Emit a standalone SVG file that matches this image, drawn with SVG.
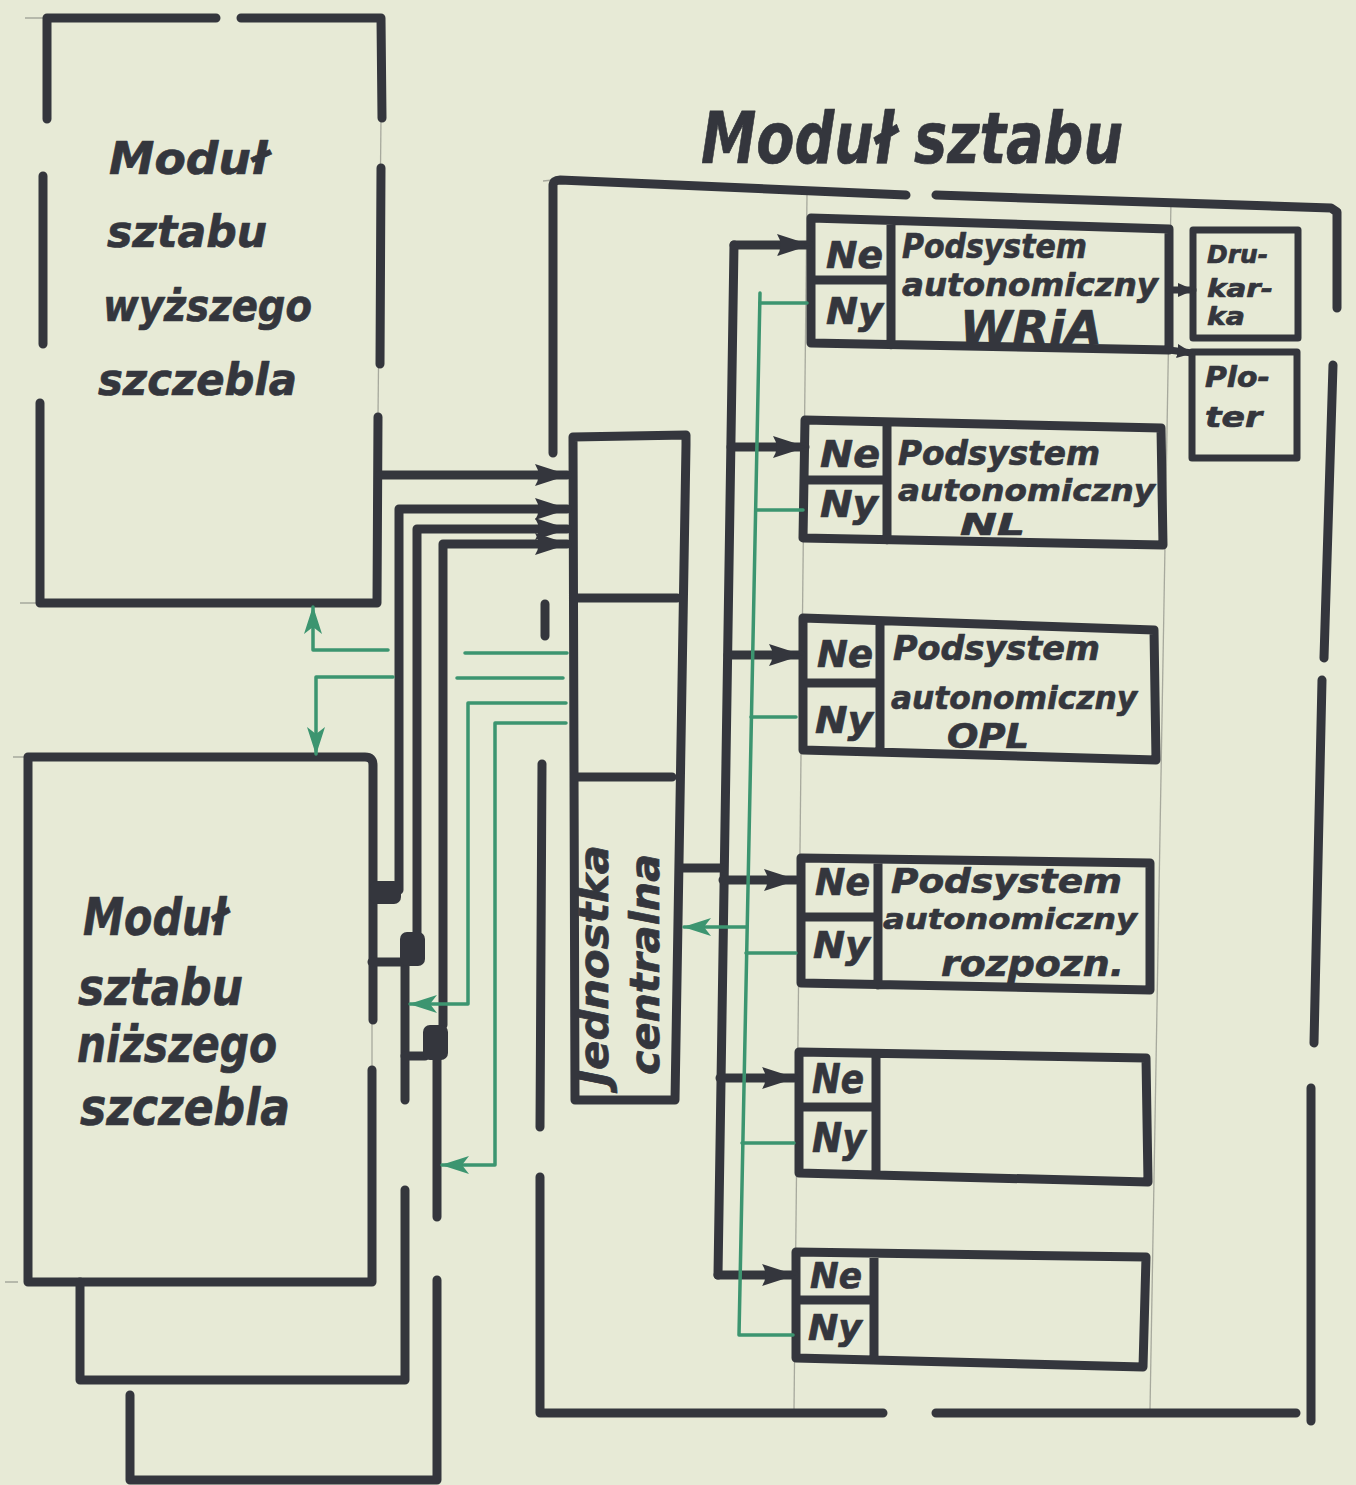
<svg xmlns="http://www.w3.org/2000/svg" width="1356" height="1485" viewBox="0 0 1356 1485">
<style>
.ink{stroke:#34363d;stroke-width:9;fill:none;stroke-linecap:round;stroke-linejoin:round}
.ink2{stroke:#34363d;stroke-width:7;fill:none;stroke-linecap:round;stroke-linejoin:round}
.grn{stroke:#3c9570;stroke-width:3.5;fill:none;stroke-linecap:round;stroke-linejoin:round}
.pen{stroke:#a7a99d;stroke-width:1.3;fill:none}
.blob{fill:#34363d}
.hand{font-family:"DejaVu Sans","Liberation Sans",sans-serif;font-weight:bold;font-style:italic;fill:#34363d;stroke:#34363d;stroke-width:0.7;stroke-linejoin:round}
</style>
<defs>
<marker id="ah" viewBox="0 0 34 24" refX="32" refY="12" markerWidth="34" markerHeight="24" markerUnits="userSpaceOnUse" orient="auto"><path d="M0,1 L34,12 L0,23 Q7,12 0,1 z" fill="#34363d"/></marker>
<marker id="ahs" viewBox="0 0 16 14" refX="15" refY="7" markerWidth="16" markerHeight="14" markerUnits="userSpaceOnUse" orient="auto"><path d="M0,0 L16,7 L0,14 z" fill="#34363d"/></marker>
<marker id="ag" viewBox="0 0 28 18" refX="27" refY="9" markerWidth="28" markerHeight="18" markerUnits="userSpaceOnUse" orient="auto"><path d="M0,0 L28,9 L0,18 L7,9 z" fill="#3c9570"/></marker>
</defs>
<rect x="0" y="0" width="1356" height="1485" fill="#e7ead6"/>

<!-- pencil guide lines -->
<g id="guides">
<path class="pen" d="M807,195 L794,1410"/>
<path class="pen" d="M1171,200 L1150,1410"/>
<path class="pen" d="M381,118 L378,417"/>
<path class="pen" d="M372,1020 L372,1070"/>
<path class="pen" d="M25,18 L47,18 M20,603 L40,603 M13,757 L28,757 M5,1282 L18,1282 M543,181 L553,180"/>
</g>

<!-- Upper-level staff module -->
<g id="modul-wyzszy">
<path class="ink" d="M47,119 L47,18 L216,18 M241,18 L381,18 L382,118 M381,168 L380,364 M378,417 L377,603 L40,603 L40,403 M43,344 L43,176"/>
<text class="hand" font-size="44" x="109" y="174" textLength="159" lengthAdjust="spacingAndGlyphs">Moduł</text>
<text class="hand" font-size="44" x="107" y="247" textLength="160" lengthAdjust="spacingAndGlyphs">sztabu</text>
<text class="hand" font-size="44" x="103" y="321" textLength="209" lengthAdjust="spacingAndGlyphs">wyższego</text>
<text class="hand" font-size="44" x="98" y="395" textLength="199" lengthAdjust="spacingAndGlyphs">szczebla</text>
</g>

<!-- Lower-level staff module (stacked) -->
<g id="modul-nizszy">
<path class="ink" d="M373,1020 L373,765 Q373,757 365,757 L28,757 L28,1282 L372,1282 L372,1070"/>
<text class="hand" font-size="52" x="83" y="935" textLength="144" lengthAdjust="spacingAndGlyphs">Moduł</text>
<text class="hand" font-size="52" x="78" y="1005" textLength="165" lengthAdjust="spacingAndGlyphs">sztabu</text>
<text class="hand" font-size="52" x="77" y="1062" textLength="200" lengthAdjust="spacingAndGlyphs">niższego</text>
<text class="hand" font-size="52" x="80" y="1125" textLength="210" lengthAdjust="spacingAndGlyphs">szczebla</text>
</g>
<g id="modul-nizszy-2">
<path class="ink" d="M405,966 L405,1100 M80,1282 L80,1380 L405,1380 L405,1190"/>
</g>
<g id="modul-nizszy-3">
<path class="ink" d="M437,1060 L437,1217 M130,1395 L130,1480 L437,1480 L437,1280"/>
</g>

<!-- Staff module frame -->
<g id="modul-sztabu">
<path class="ink" d="M553,453 L553,186 Q553,180 560,180 L906,195 M936,195 L1331,208 L1337,212 L1337,308 M1333,365 L1324,658 M1322,680 L1314,1043 M1311,1088 L1311,1421 M540,1177 L540,1413 L883,1413 M936,1413 L1296,1413 M545,604 L545,636 M542,764 L540,1127"/>
<text class="hand" font-size="72" x="701" y="163" textLength="422" lengthAdjust="spacingAndGlyphs">Moduł sztabu</text>
</g>

<!-- Central unit -->
<g id="jednostka">
<path class="ink" d="M575,1100 L573,437 L686,435 L686,445 L675,1100 Z M575,598 L677,598 M575,777 L672,777"/>
<text class="hand" font-size="40" transform="translate(608,1086) rotate(-90)" textLength="241" lengthAdjust="spacingAndGlyphs">Jednostka</text>
<text class="hand" font-size="40" transform="translate(659,1075) rotate(-90)" textLength="221" lengthAdjust="spacingAndGlyphs">centralna</text>
</g>

<!-- Subsystems -->
<g id="sub-wria">
<path class="ink" d="M811,218 L1169,229 L1169,350 L811,343 Z M891,222 L891,345 M811,280 L891,280"/>
<text class="hand" font-size="38" x="826" y="268" textLength="57" lengthAdjust="spacingAndGlyphs">Ne</text>
<text class="hand" font-size="38" x="826" y="324" textLength="57" lengthAdjust="spacingAndGlyphs">Ny</text>
<text class="hand" font-size="33" x="902" y="258" textLength="185" lengthAdjust="spacingAndGlyphs">Podsystem</text>
<text class="hand" font-size="32" x="902" y="296" textLength="256" lengthAdjust="spacingAndGlyphs">autonomiczny</text>
<text class="hand" font-size="46" x="960" y="344" textLength="142" lengthAdjust="spacingAndGlyphs">WRiA</text>
</g>
<g id="sub-nl">
<path class="ink" d="M805,420 L1161,428 L1163,545 L803,538 Z M887,422 L887,540 M805,480 L887,480"/>
<text class="hand" font-size="38" x="820" y="467" textLength="60" lengthAdjust="spacingAndGlyphs">Ne</text>
<text class="hand" font-size="38" x="820" y="517" textLength="58" lengthAdjust="spacingAndGlyphs">Ny</text>
<text class="hand" font-size="33" x="898" y="465" textLength="202" lengthAdjust="spacingAndGlyphs">Podsystem</text>
<text class="hand" font-size="31" x="898" y="501" textLength="257" lengthAdjust="spacingAndGlyphs">autonomiczny</text>
<text class="hand" font-size="30" x="960" y="535" textLength="65" lengthAdjust="spacingAndGlyphs">NL</text>
</g>
<g id="sub-opl">
<path class="ink" d="M803,618 L1154,630 L1156,760 L803,750 Z M880,621 L880,752 M803,683 L880,683"/>
<text class="hand" font-size="38" x="817" y="667" textLength="56" lengthAdjust="spacingAndGlyphs">Ne</text>
<text class="hand" font-size="38" x="815" y="733" textLength="58" lengthAdjust="spacingAndGlyphs">Ny</text>
<text class="hand" font-size="33" x="893" y="660" textLength="207" lengthAdjust="spacingAndGlyphs">Podsystem</text>
<text class="hand" font-size="32" x="891" y="709" textLength="246" lengthAdjust="spacingAndGlyphs">autonomiczny</text>
<text class="hand" font-size="34" x="947" y="748" textLength="82" lengthAdjust="spacingAndGlyphs">OPL</text>
</g>
<g id="sub-rozpozn">
<path class="ink" d="M801,858 L1150,863 L1150,990 L801,983 Z M878,860 L878,985 M801,917 L878,917"/>
<text class="hand" font-size="38" x="815" y="895" textLength="55" lengthAdjust="spacingAndGlyphs">Ne</text>
<text class="hand" font-size="38" x="813" y="958" textLength="57" lengthAdjust="spacingAndGlyphs">Ny</text>
<text class="hand" font-size="34" x="891" y="893" textLength="231" lengthAdjust="spacingAndGlyphs">Podsystem</text>
<text class="hand" font-size="29" x="883" y="929" textLength="254" lengthAdjust="spacingAndGlyphs">autonomiczny</text>
<text class="hand" font-size="36" x="941" y="976" textLength="183" lengthAdjust="spacingAndGlyphs">rozpozn.</text>
</g>
<g id="sub-5">
<path class="ink" d="M799,1052 L1146,1058 L1148,1182 L799,1173 Z M876,1055 L876,1175 M799,1107 L876,1107"/>
<text class="hand" font-size="40" x="812" y="1093" textLength="52" lengthAdjust="spacingAndGlyphs">Ne</text>
<text class="hand" font-size="40" x="812" y="1152" textLength="54" lengthAdjust="spacingAndGlyphs">Ny</text>
</g>
<g id="sub-6">
<path class="ink" d="M796,1252 L1146,1257 L1143,1367 L796,1358 Z M874,1255 L874,1360 M796,1300 L874,1300"/>
<text class="hand" font-size="36" x="810" y="1288" textLength="52" lengthAdjust="spacingAndGlyphs">Ne</text>
<text class="hand" font-size="36" x="808" y="1340" textLength="54" lengthAdjust="spacingAndGlyphs">Ny</text>
</g>

<g id="drukarka">
<path class="ink2" d="M1193,230 L1298,230 L1298,338 L1193,338 Z"/>
<text class="hand" font-size="24" x="1207" y="263" textLength="61" lengthAdjust="spacingAndGlyphs">Dru-</text>
<text class="hand" font-size="24" x="1207" y="297" textLength="66" lengthAdjust="spacingAndGlyphs">kar-</text>
<text class="hand" font-size="24" x="1207" y="325" textLength="38" lengthAdjust="spacingAndGlyphs">ka</text>
</g>
<g id="ploter">
<path class="ink2" d="M1192,352 L1297,352 L1297,458 L1192,458 Z"/>
<text class="hand" font-size="28" x="1205" y="387" textLength="65" lengthAdjust="spacingAndGlyphs">Plo-</text>
<text class="hand" font-size="28" x="1205" y="427" textLength="57" lengthAdjust="spacingAndGlyphs">ter</text>
</g>

<!-- Connectors -->
<g id="connectors">
<path class="ink" d="M734,245 L718,1275"/>
<path class="ink" d="M734,245 L809,245" marker-end="url(#ah)"/>
<path class="ink" d="M731,447 L805,447" marker-end="url(#ah)"/>
<path class="ink" d="M728,655 L801,655" marker-end="url(#ah)"/>
<path class="ink" d="M723,880 L796,880" marker-end="url(#ah)"/>
<path class="ink" d="M720,1078 L794,1078" marker-end="url(#ah)"/>
<path class="ink" d="M718,1275 L794,1275" marker-end="url(#ah)"/>
<path class="ink" d="M680,868 L722,868"/>
<path class="ink2" d="M1169,290 L1193,290" marker-end="url(#ahs)"/>
<path class="ink2" d="M1169,350 L1192,353" marker-end="url(#ahs)"/>
<path class="ink" d="M380,475 L567,475" marker-end="url(#ah)"/>
<path class="ink" d="M399,890 L399,509 L567,509" marker-end="url(#ah)"/>
<path class="ink" d="M417,935 L417,529 L567,529" marker-end="url(#ah)"/>
<path class="ink" d="M443,1025 L443,544 L567,544" marker-end="url(#ah)"/>
<path class="ink" d="M372,962 L402,962 M405,1056 L425,1056"/>
<rect class="blob" x="370" y="881" width="31" height="23" rx="7"/>
<rect class="blob" x="400" y="932" width="25" height="34" rx="7"/>
<rect class="blob" x="423" y="1025" width="25" height="35" rx="7"/>
<path class="grn" d="M760,293 L739,1335 L793,1335"/>
<path class="grn" d="M760,303 L807,303 M756,510 L803,510 M751,717 L796,717 M746,953 L796,953 M742,1143 L794,1143"/>
<path class="grn" d="M746,927 L684,927" marker-end="url(#ag)"/>
<path class="grn" d="M388,650 L313,650 L313,607" marker-end="url(#ag)"/>
<path class="grn" d="M393,677 L316,677 L316,754" marker-end="url(#ag)"/>
<path class="grn" d="M465,653 L567,653 M457,678 L563,678"/>
<path class="grn" d="M566,703 L468,703 L468,1004 L410,1004" marker-end="url(#ag)"/>
<path class="grn" d="M566,723 L495,723 L495,1165 L442,1165" marker-end="url(#ag)"/>
</g>
</svg>
